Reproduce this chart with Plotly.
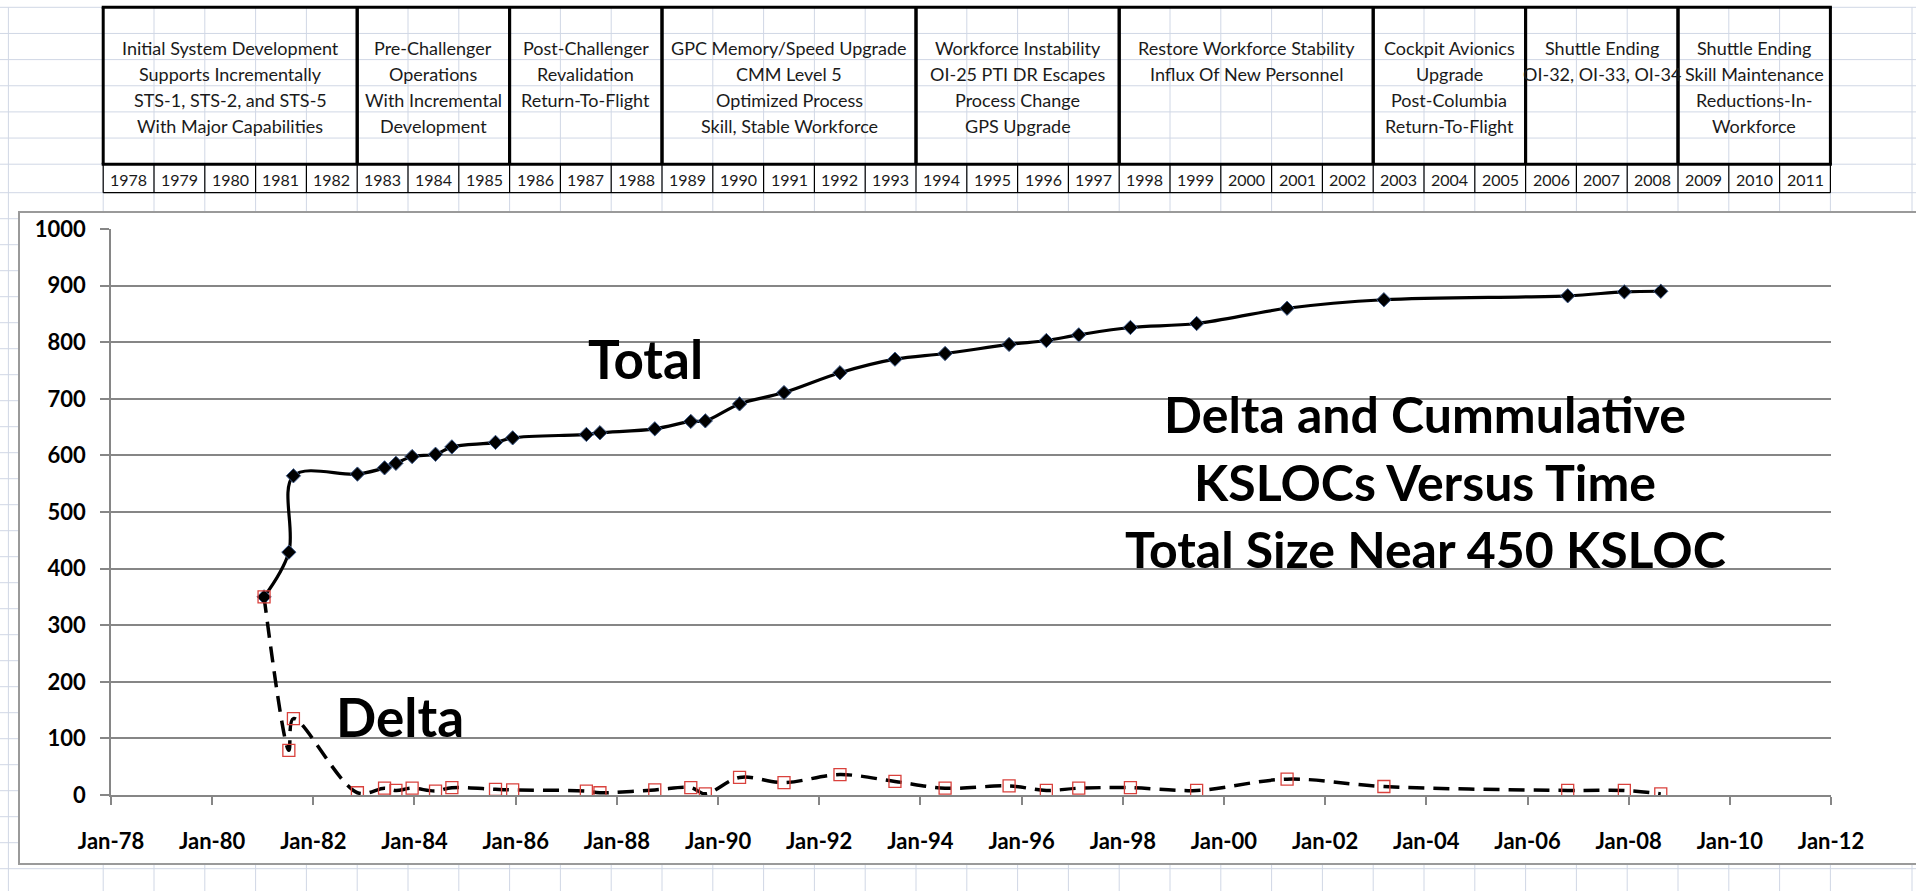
import plotly.graph_objects as go

# release dates and sizes (KSLOC)
dates = ["1981-01-10", "1981-07-08", "1981-08-10", "1982-11-15", "1983-05-30",
         "1983-08-20", "1983-12-15", "1984-06-01", "1984-09-27", "1985-08-08",
         "1985-12-10", "1987-05-26", "1987-09-01", "1988-10-01", "1989-06-18",
         "1989-10-01", "1990-06-05", "1991-04-22", "1992-05-30", "1993-07-01",
         "1994-06-28", "1995-10-03", "1996-06-28", "1997-02-17", "1998-02-25",
         "1999-06-18", "2001-04-01", "2003-03-01", "2006-10-18", "2007-12-01",
         "2008-08-20"]
total = [350, 429, 564, 567, 578, 586, 598, 602, 615, 623,
         631, 637, 640, 647, 660, 661, 691, 711, 746, 770,
         780, 796, 803, 813, 826, 833, 860, 875, 882, 889,
         890]
delta = [350, 79, 135, 4, 12, 8, 12, 7, 13, 10,
         9, 7, 4, 9, 13, 2, 31, 22, 36, 24,
         12, 16, 8, 12, 13, 8, 28, 15, 8, 8,
         2]

years = list(range(1978, 2012))
groups = [
    (1978, 1982, ["Initial System Development", "Supports Incrementally",
                  "STS-1, STS-2, and STS-5", "With Major Capabilities"]),
    (1983, 1985, ["Pre-Challenger", "Operations", "With Incremental", "Development"]),
    (1986, 1988, ["Post-Challenger", "Revalidation", "Return-To-Flight"]),
    (1989, 1993, ["GPC Memory/Speed Upgrade", "CMM Level 5",
                  "Optimized Process", "Skill, Stable Workforce"]),
    (1994, 1997, ["Workforce Instability", "OI-25 PTI DR Escapes",
                  "Process Change", "GPS Upgrade"]),
    (1998, 2002, ["Restore Workforce Stability", "Influx Of New Personnel"]),
    (2003, 2005, ["Cockpit Avionics", "Upgrade", "Post-Columbia", "Return-To-Flight"]),
    (2006, 2008, ["Shuttle Ending", "OI-32, OI-33, OI-34"]),
    (2009, 2011, ["Shuttle Ending", "Skill Maintenance", "Reductions-In-", "Workforce"]),
]
title_lines = ["Delta and Cummulative", "KSLOCs Versus Time", "Total Size Near 450 KSLOC"]

W, H = 1916, 891
L, R, T, B = 111, 85, 229, 96
PW, PH = W - L - R, H - T - B
FONT = "Lato"


def px(x):
    return (x - L) / PW


def py(y):
    return (H - B - y) / PH


# spreadsheet geometry
COL0, COLW = 103.2, 50.8
ROW0, ROWH = 7.3, 26.15
GRID = "#d0d7e5"


def colx(i):
    return COL0 + i * COLW


shapes = []
annotations = []


def hline(x0, x1, y, color, w, layer="below"):
    shapes.append(dict(type="line", xref="paper", yref="paper", x0=px(x0), x1=px(x1),
                       y0=py(y), y1=py(y), line=dict(color=color, width=w), layer=layer))


def vline(x, y0, y1, color, w, layer="below"):
    shapes.append(dict(type="line", xref="paper", yref="paper", x0=px(x), x1=px(x),
                       y0=py(y0), y1=py(y1), line=dict(color=color, width=w), layer=layer))


def label(x, y, text, font):
    annotations.append(dict(x=px(x), y=py(y), xref="paper", yref="paper", text=text,
                            showarrow=False, xanchor="center", yanchor="middle", font=font))


# background worksheet grid
row_lines = [ROW0 + ROWH * i for i in range(7)] + [192.7 + 26.0 * j for j in range(28)]
for y in row_lines:
    hline(0, W, y, GRID, 1)
for x in [8.4] + [colx(i) for i in range(len(years) + 1)] + [1912]:
    vline(x, ROW0, H, GRID, 1)

# chart area box
shapes.append(dict(type="rect", xref="paper", yref="paper", x0=px(19), x1=px(1930),
                   y0=py(212), y1=py(864), fillcolor="white",
                   line=dict(color="#9a9a9a", width=2), layer="below"))

# timeline table
cell_font = dict(family=FONT, size=18, color="#1a1a1a")
year_font = dict(family=FONT, size=16, color="#1a1a1a")
y_top, y_mid, y_bot = ROW0, ROW0 + 6 * ROWH, 192.7
for i, yr in enumerate(years):
    vline(colx(i), y_mid, y_bot, "black", 1.2, "above")
    label(colx(i) + COLW / 2, (y_mid + y_bot) / 2 + 1, str(yr), year_font)
vline(colx(len(years)), y_mid, y_bot, "black", 1.2, "above")
hline(colx(0), colx(len(years)), y_bot, "black", 1.2, "above")

for y0, y1, lines in groups:
    i0, i1 = y0 - years[0], y1 - years[0] + 1
    vline(colx(i0), y_top, y_mid, "black", 3, "above")
    vline(colx(i1), y_top, y_mid, "black", 3, "above")
    cx = (colx(i0) + colx(i1)) / 2
    for k, txt in enumerate(lines):
        label(cx, ROW0 + ROWH * (k + 1.5) + 1, txt, cell_font)
hline(colx(0) - 1.5, colx(len(years)) + 1.5, y_top, "black", 3, "above")
hline(colx(0) - 1.5, colx(len(years)) + 1.5, y_mid, "black", 3, "above")

# chart labels
series_font = dict(family=FONT, size=53, color="black", weight="bold")
title_font = dict(family=FONT, size=50, color="black", weight="bold")
label(645, 358, "Total", series_font)
label(400, 716, "Delta", series_font)
for k, txt in enumerate(title_lines):
    label(1425, 414 + 67.5 * k, txt, title_font)

fig = go.Figure()
fig.add_trace(go.Scatter(
    x=dates, y=total, mode="lines+markers", name="Total",
    line=dict(color="black", width=3.2, shape="spline", smoothing=1),
    marker=dict(symbol="diamond", size=11, color="black",
                line=dict(color="#3d5a8a", width=1)),
))
fig.add_trace(go.Scatter(
    x=dates, y=delta, mode="lines+markers", name="Delta",
    line=dict(color="black", width=3.5, dash="16px,9px", shape="spline", smoothing=1),
    marker=dict(symbol="square-open", size=12, color="#d9413c",
                line=dict(color="#d9413c", width=1.3)),
))

axis_font = dict(family=FONT, size=22, color="black", weight="bold")
fig.update_layout(
    width=W, height=H, margin=dict(l=L, r=R, t=T, b=B),
    paper_bgcolor="white", plot_bgcolor="rgba(0,0,0,0)",
    showlegend=False, shapes=shapes, annotations=annotations,
    xaxis=dict(type="date", range=["1978-01-01", "2012-01-01"], tick0="1978-01-01",
               dtick="M24", tickformat="%b-%y", ticks="outside", ticklen=8,
               tickcolor="#868686", tickwidth=1.5, showline=True, linecolor="#868686",
               linewidth=1.5, showgrid=False, zeroline=False, tickfont=axis_font,
               ticklabelstandoff=18),
    yaxis=dict(range=[0, 1000], dtick=100, ticks="outside", ticklen=9,
               tickcolor="#868686", tickwidth=1.5, showline=True, linecolor="#868686",
               linewidth=1.5, showgrid=True, gridcolor="#868686", gridwidth=1.5,
               zeroline=False, tickfont=axis_font, ticklabelstandoff=10),
)

fig.write_html("out.html", config={"displayModeBar": False},
               post_script="document.body.style.margin='0';")
